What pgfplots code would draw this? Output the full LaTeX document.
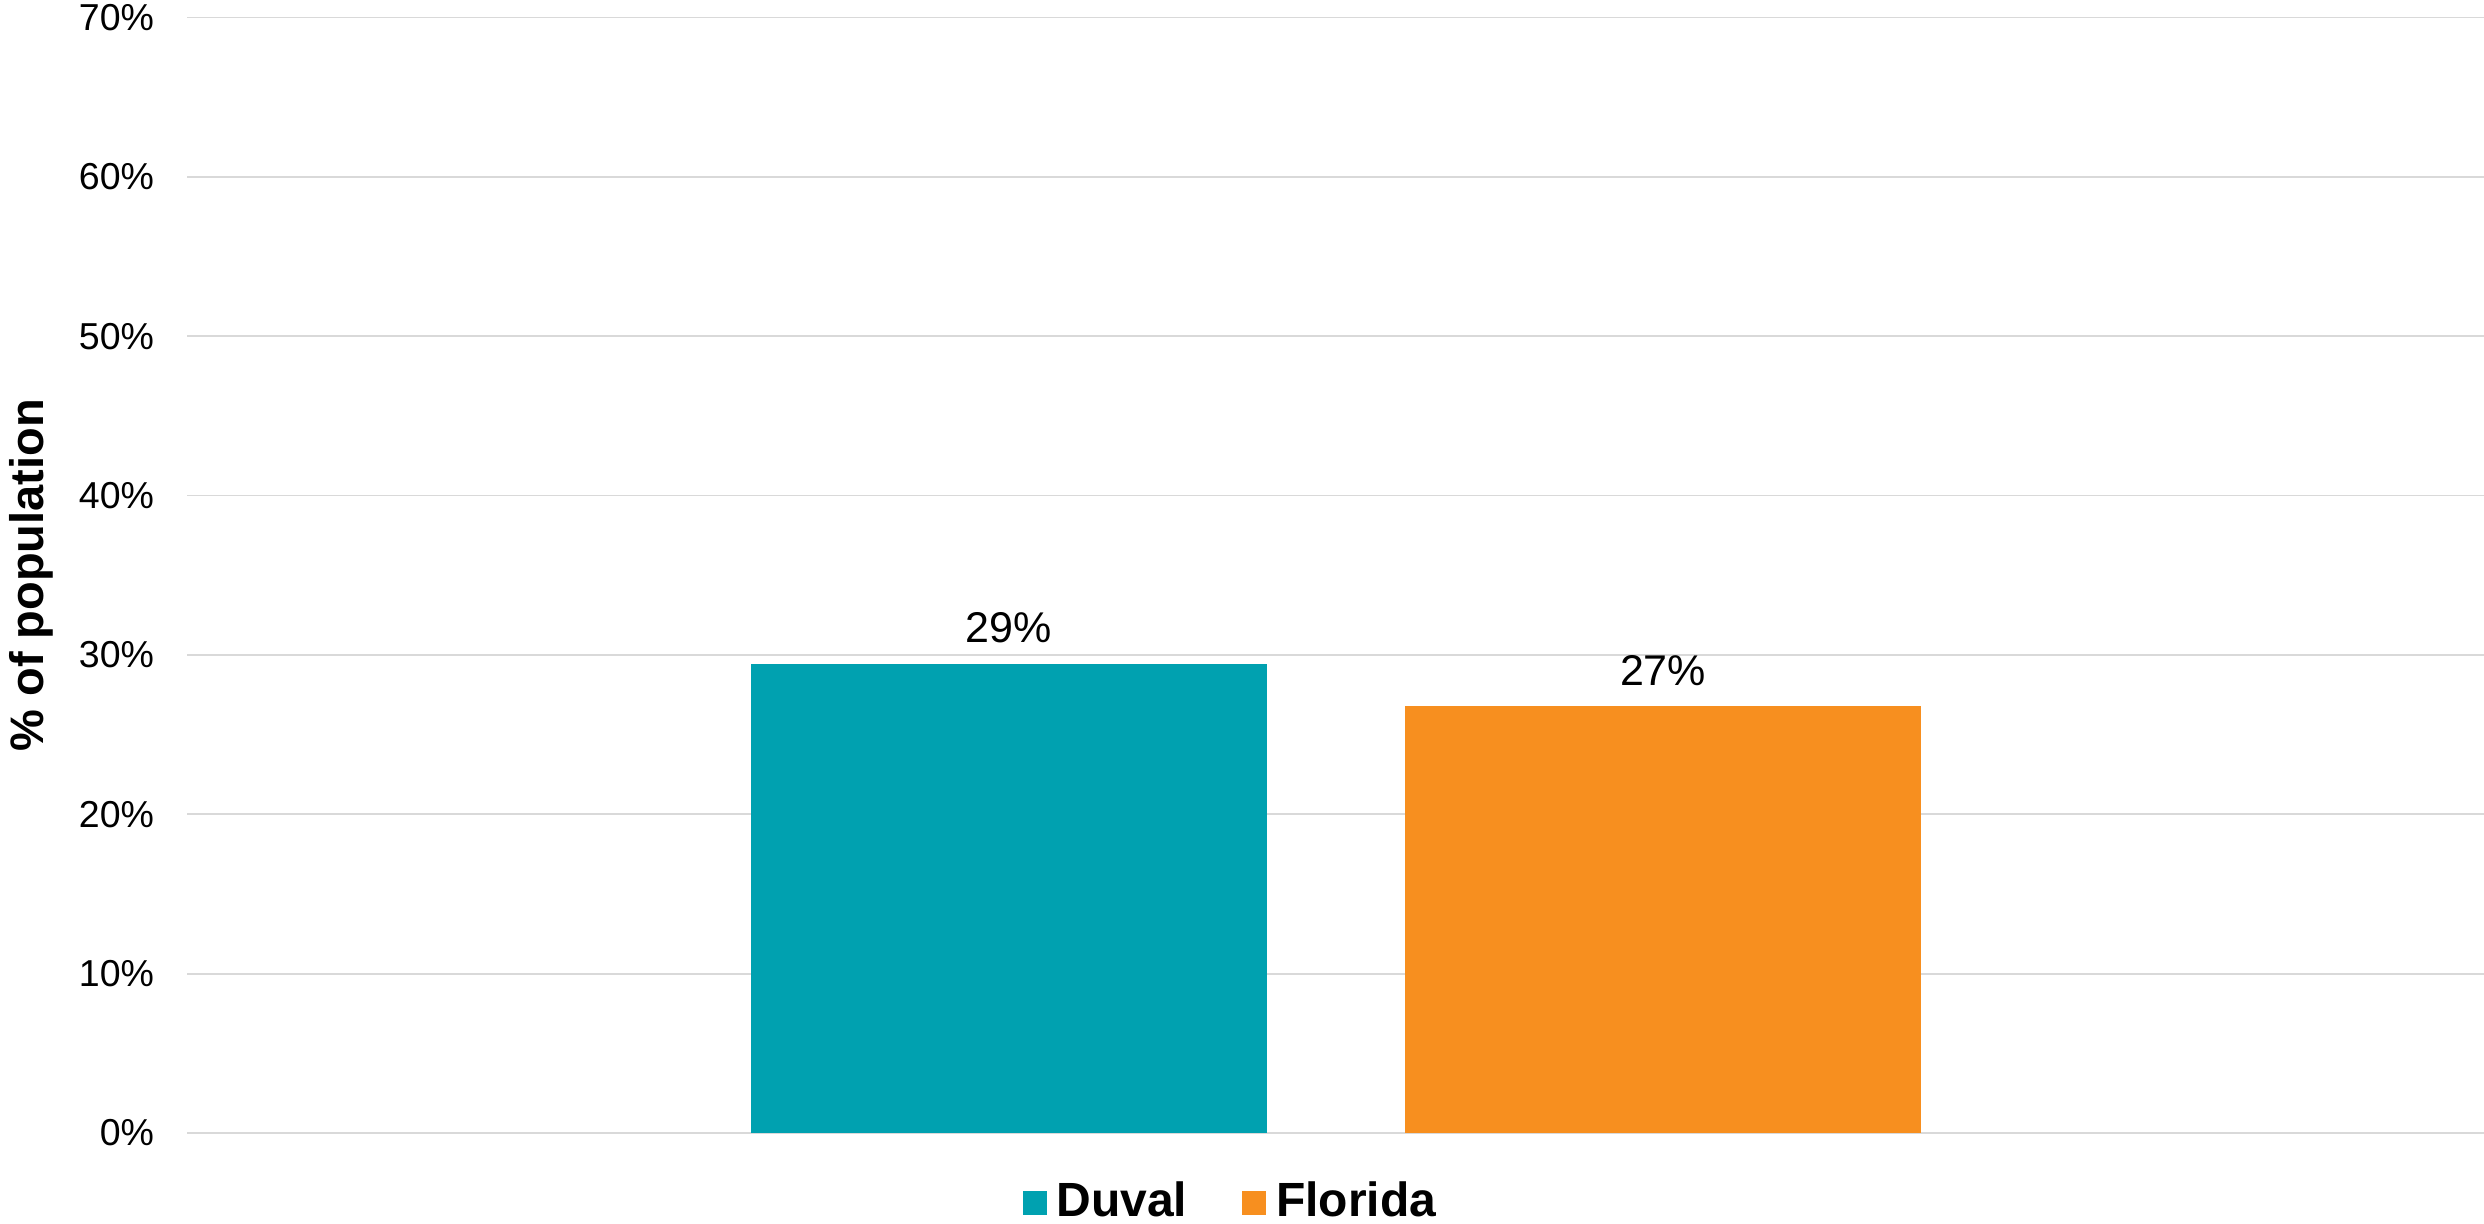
\documentclass[border=0pt]{standalone}
\usepackage{pgfplots}
\pgfplotsset{compat=1.18}
\usepackage{fontspec}
\setmainfont{Liberation Sans}
\definecolor{duval}{HTML}{00A1B0}
\definecolor{florida}{HTML}{F78F1F}
\definecolor{gridc}{HTML}{D9D9D9}
\begin{document}
\begin{tikzpicture}
\path[use as bounding box] (0,0) rectangle (496.8pt,244.6pt);
\begin{axis}[
  at={(37.4pt,18pt)}, anchor=south west,
  scale only axis,
  width=459.4pt, height=223.1pt,
  xmin=187, xmax=2484,
  ymin=0, ymax=70,
  ytick={0,10,20,30,40,50,60,70},
  yticklabel={\pgfmathprintnumber{\tick}\%},
  /pgf/number format/assume math mode=true,
  yticklabel style={font=\fontsize{7.5}{9}\selectfont, inner sep=0pt, xshift=-6.4pt},
  xtick=\empty,
  major tick length=0pt,
  ymajorgrids,
  grid style={gridc, line width=0.35pt},
  axis line style={draw=none},
  ylabel={\textbf{\% of population}},
  ylabel style={at={(axis description cs:0,0.5)}, yshift=31.2pt, anchor=center, font=\fontsize{9.4}{11}\selectfont},
  ybar, bar width=103.2pt, bar shift=0pt,
  nodes near coords={\pgfmathprintnumber[fixed,precision=0]{\pgfplotspointmeta}\%},
  nodes near coords style={font=\fontsize{8.6}{10}\selectfont, inner sep=0pt, anchor=south, yshift=4pt},
  legend columns=2,
  legend style={at={(axis description cs:0.456,0)}, anchor=center, yshift=-14pt, draw=none, fill=none,
    font=\fontsize{9.6}{11}\selectfont\bfseries, inner sep=0pt,
    /tikz/every even column/.append style={column sep=9pt}},
  legend image code/.code={\fill[#1] (0pt,-2.4pt) rectangle (4.8pt,2.4pt);},
]
\addplot[fill=duval, draw=none] coordinates {(1009,29.42)};
\addlegendentry{Duval}
\addplot[fill=florida, draw=none] coordinates {(1663,26.77)};
\addlegendentry{Florida}
\end{axis}
\end{tikzpicture}
\end{document}
